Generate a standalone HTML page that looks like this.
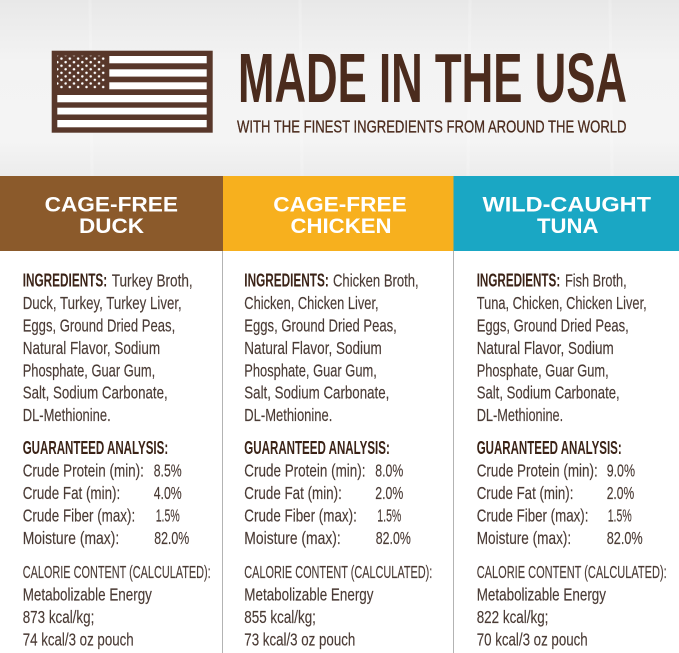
<!DOCTYPE html>
<html><head><meta charset="utf-8"><style>
html,body{margin:0;padding:0;background:#fff;}
svg{display:block;}
.r{font-family:"Liberation Sans Narrow","Liberation Sans",sans-serif;font-size:17.5px;fill:#4a3b35;stroke:#4a3b35;stroke-width:0.15;}
.b{font-family:"Liberation Sans Narrow","Liberation Sans",sans-serif;font-size:18px;font-weight:bold;fill:#3b2317;}
.h{font-family:"Liberation Sans",sans-serif;font-size:21px;font-weight:bold;fill:#fff;}
</style></head><body>
<svg width="679" height="653" viewBox="0 0 679 653" xmlns="http://www.w3.org/2000/svg">
<defs>
<linearGradient id="bg" x1="0" y1="0" x2="0" y2="1">
<stop offset="0" stop-color="#e8e8e8"/><stop offset="0.35" stop-color="#f3f3f3"/><stop offset="0.8" stop-color="#f4f4f4"/><stop offset="1" stop-color="#ececec"/>
</linearGradient>
<pattern id="stars" x="0" y="0" width="16.7" height="7.1" patternUnits="userSpaceOnUse">
<circle cx="3" cy="1.8" r="1.25" fill="#fff"/><circle cx="11.35" cy="1.8" r="1.25" fill="#fff"/>
<circle cx="7.2" cy="5.35" r="1.25" fill="#fff"/><circle cx="15.55" cy="5.35" r="1.25" fill="#fff"/>
</pattern>
</defs>
<rect x="0" y="0" width="679" height="176" fill="url(#bg)"/>
<g opacity="0.2" stroke="#ffffff" stroke-width="3">
<line x1="90" y1="0" x2="92" y2="176"/><line x1="300" y1="0" x2="302" y2="176"/><line x1="470" y1="0" x2="468" y2="176"/><line x1="610" y1="0" x2="612" y2="176"/>
</g>
<!-- flag -->
<rect x="51.7" y="50.7" width="161" height="82" fill="#58372a"/>
<rect x="57" y="55.7" width="48" height="33" fill="url(#stars)"/>
<g fill="#fff">
<rect x="109.3" y="56" width="97.4" height="7.3"/>
<rect x="109.3" y="69.3" width="97.4" height="7.3"/>
<rect x="109.3" y="82.3" width="97.4" height="7"/>
<rect x="57.3" y="95" width="149.4" height="7.3"/>
<rect x="57.3" y="107.7" width="149.4" height="6.8"/>
<rect x="57.3" y="120" width="149.4" height="7.3"/>
</g>
<!-- title -->
<text x="238" y="102" textLength="389" lengthAdjust="spacingAndGlyphs" style="font-family:'Liberation Sans Narrow','Liberation Sans',sans-serif;font-weight:bold;font-size:70px;fill:#4b2b1d">MADE IN THE USA</text>
<text x="237" y="132.5" textLength="389.5" lengthAdjust="spacingAndGlyphs" style="font-family:'Liberation Sans Narrow','Liberation Sans',sans-serif;font-size:17.2px;fill:#4b2b1d;stroke:#4b2b1d;stroke-width:0.3">WITH THE FINEST INGREDIENTS FROM AROUND THE WORLD</text>
<!-- bands -->
<rect x="0" y="176" width="223" height="75" fill="#8b5a2b"/>
<rect x="223" y="176" width="230.5" height="75" fill="#f7b01e"/>
<rect x="453.5" y="176" width="225.5" height="75" fill="#1aa7c4"/>
<text class="h" x="44.6" y="211.5" textLength="133.4" lengthAdjust="spacingAndGlyphs">CAGE-FREE</text>
<text class="h" x="79" y="233" textLength="65" lengthAdjust="spacingAndGlyphs">DUCK</text>
<text class="h" x="273.3" y="211.5" textLength="133.4" lengthAdjust="spacingAndGlyphs">CAGE-FREE</text>
<text class="h" x="290.5" y="233" textLength="101" lengthAdjust="spacingAndGlyphs">CHICKEN</text>
<text class="h" x="482.5" y="211.5" textLength="168.5" lengthAdjust="spacingAndGlyphs">WILD-CAUGHT</text>
<text class="h" x="537" y="233" textLength="61.5" lengthAdjust="spacingAndGlyphs">TUNA</text>
<!-- dividers -->
<line x1="222.5" y1="251" x2="222.5" y2="653" stroke="#b3b3b3" stroke-width="1"/>
<line x1="453.5" y1="251" x2="453.5" y2="653" stroke="#b3b3b3" stroke-width="1"/>

<!-- column 1 -->
<g transform="translate(22.7,0)">
<text class="b" x="0" y="286.7" textLength="84.5" lengthAdjust="spacingAndGlyphs">INGREDIENTS:</text>
<text class="r" x="89" y="286.7" textLength="81" lengthAdjust="spacingAndGlyphs">Turkey Broth,</text>
<text class="r" x="0" y="309.1" textLength="159" lengthAdjust="spacingAndGlyphs">Duck, Turkey, Turkey Liver,</text>
<text class="r" x="0" y="331.5" textLength="152.5" lengthAdjust="spacingAndGlyphs">Eggs, Ground Dried Peas,</text>
<text class="r" x="0" y="353.9" textLength="137.5" lengthAdjust="spacingAndGlyphs">Natural Flavor, Sodium</text>
<text class="r" x="0" y="376.3" textLength="132.5" lengthAdjust="spacingAndGlyphs">Phosphate, Guar Gum,</text>
<text class="r" x="0" y="398.7" textLength="145" lengthAdjust="spacingAndGlyphs">Salt, Sodium Carbonate,</text>
<text class="r" x="0" y="421.1" textLength="88" lengthAdjust="spacingAndGlyphs">DL-Methionine.</text>
<text class="b" x="0" y="454" textLength="145.5" lengthAdjust="spacingAndGlyphs">GUARANTEED ANALYSIS:</text>
<text class="r" x="0" y="476.5" textLength="121.2" lengthAdjust="spacingAndGlyphs">Crude Protein (min):</text>
<text class="r" x="131" y="476.5" textLength="28" lengthAdjust="spacingAndGlyphs">8.5%</text>
<text class="r" x="0" y="499" textLength="97.5" lengthAdjust="spacingAndGlyphs">Crude Fat (min):</text>
<text class="r" x="131" y="499" textLength="28" lengthAdjust="spacingAndGlyphs">4.0%</text>
<text class="r" x="0" y="521.5" textLength="112.5" lengthAdjust="spacingAndGlyphs">Crude Fiber (max):</text>
<text class="r" x="133" y="521.5" textLength="24" lengthAdjust="spacingAndGlyphs">1.5%</text>
<text class="r" x="0" y="544" textLength="96.5" lengthAdjust="spacingAndGlyphs">Moisture (max):</text>
<text class="r" x="131.5" y="544" textLength="35" lengthAdjust="spacingAndGlyphs">82.0%</text>
<text class="r" x="0" y="578" textLength="188" lengthAdjust="spacingAndGlyphs">CALORIE CONTENT (CALCULATED):</text>
<text class="r" x="0" y="600.5" textLength="129.2" lengthAdjust="spacingAndGlyphs">Metabolizable Energy</text>
<text class="r" x="0" y="623" textLength="71.6" lengthAdjust="spacingAndGlyphs">873 kcal/kg;</text>
<text class="r" x="0" y="645.5" textLength="111" lengthAdjust="spacingAndGlyphs">74 kcal/3 oz pouch</text>
</g>

<!-- column 2 -->
<g transform="translate(244.3,0)">
<text class="b" x="0" y="286.7" textLength="84.5" lengthAdjust="spacingAndGlyphs">INGREDIENTS:</text>
<text class="r" x="88.7" y="286.7" textLength="85.7" lengthAdjust="spacingAndGlyphs">Chicken Broth,</text>
<text class="r" x="0" y="309.1" textLength="134.3" lengthAdjust="spacingAndGlyphs">Chicken, Chicken Liver,</text>
<text class="r" x="0" y="331.5" textLength="152.5" lengthAdjust="spacingAndGlyphs">Eggs, Ground Dried Peas,</text>
<text class="r" x="0" y="353.9" textLength="137.5" lengthAdjust="spacingAndGlyphs">Natural Flavor, Sodium</text>
<text class="r" x="0" y="376.3" textLength="132.5" lengthAdjust="spacingAndGlyphs">Phosphate, Guar Gum,</text>
<text class="r" x="0" y="398.7" textLength="145" lengthAdjust="spacingAndGlyphs">Salt, Sodium Carbonate,</text>
<text class="r" x="0" y="421.1" textLength="88" lengthAdjust="spacingAndGlyphs">DL-Methionine.</text>
<text class="b" x="0" y="454" textLength="145.5" lengthAdjust="spacingAndGlyphs">GUARANTEED ANALYSIS:</text>
<text class="r" x="0" y="476.5" textLength="121.2" lengthAdjust="spacingAndGlyphs">Crude Protein (min):</text>
<text class="r" x="131" y="476.5" textLength="28" lengthAdjust="spacingAndGlyphs">8.0%</text>
<text class="r" x="0" y="499" textLength="97.5" lengthAdjust="spacingAndGlyphs">Crude Fat (min):</text>
<text class="r" x="131" y="499" textLength="28" lengthAdjust="spacingAndGlyphs">2.0%</text>
<text class="r" x="0" y="521.5" textLength="112.5" lengthAdjust="spacingAndGlyphs">Crude Fiber (max):</text>
<text class="r" x="133" y="521.5" textLength="24" lengthAdjust="spacingAndGlyphs">1.5%</text>
<text class="r" x="0" y="544" textLength="96.5" lengthAdjust="spacingAndGlyphs">Moisture (max):</text>
<text class="r" x="131.5" y="544" textLength="35" lengthAdjust="spacingAndGlyphs">82.0%</text>
<text class="r" x="0" y="578" textLength="188" lengthAdjust="spacingAndGlyphs">CALORIE CONTENT (CALCULATED):</text>
<text class="r" x="0" y="600.5" textLength="129.2" lengthAdjust="spacingAndGlyphs">Metabolizable Energy</text>
<text class="r" x="0" y="623" textLength="71.6" lengthAdjust="spacingAndGlyphs">855 kcal/kg;</text>
<text class="r" x="0" y="645.5" textLength="111" lengthAdjust="spacingAndGlyphs">73 kcal/3 oz pouch</text>
</g>

<!-- column 3 -->
<g transform="translate(476.7,0)">
<text class="b" x="0" y="286.7" textLength="83.5" lengthAdjust="spacingAndGlyphs">INGREDIENTS:</text>
<text class="r" x="88.3" y="286.7" textLength="61.7" lengthAdjust="spacingAndGlyphs">Fish Broth,</text>
<text class="r" x="0" y="309.1" textLength="170" lengthAdjust="spacingAndGlyphs">Tuna, Chicken, Chicken Liver,</text>
<text class="r" x="0" y="331.5" textLength="152" lengthAdjust="spacingAndGlyphs">Eggs, Ground Dried Peas,</text>
<text class="r" x="0" y="353.9" textLength="137" lengthAdjust="spacingAndGlyphs">Natural Flavor, Sodium</text>
<text class="r" x="0" y="376.3" textLength="132" lengthAdjust="spacingAndGlyphs">Phosphate, Guar Gum,</text>
<text class="r" x="0" y="398.7" textLength="143" lengthAdjust="spacingAndGlyphs">Salt, Sodium Carbonate,</text>
<text class="r" x="0" y="421.1" textLength="86.5" lengthAdjust="spacingAndGlyphs">DL-Methionine.</text>
<text class="b" x="0" y="454" textLength="145" lengthAdjust="spacingAndGlyphs">GUARANTEED ANALYSIS:</text>
<text class="r" x="0" y="476.5" textLength="121" lengthAdjust="spacingAndGlyphs">Crude Protein (min):</text>
<text class="r" x="130" y="476.5" textLength="28.3" lengthAdjust="spacingAndGlyphs">9.0%</text>
<text class="r" x="0" y="499" textLength="96.7" lengthAdjust="spacingAndGlyphs">Crude Fat (min):</text>
<text class="r" x="130" y="499" textLength="27.5" lengthAdjust="spacingAndGlyphs">2.0%</text>
<text class="r" x="0" y="521.5" textLength="111.7" lengthAdjust="spacingAndGlyphs">Crude Fiber (max):</text>
<text class="r" x="131" y="521.5" textLength="24" lengthAdjust="spacingAndGlyphs">1.5%</text>
<text class="r" x="0" y="544" textLength="94.5" lengthAdjust="spacingAndGlyphs">Moisture (max):</text>
<text class="r" x="130" y="544" textLength="36" lengthAdjust="spacingAndGlyphs">82.0%</text>
<text class="r" x="0" y="578" textLength="190" lengthAdjust="spacingAndGlyphs">CALORIE CONTENT (CALCULATED):</text>
<text class="r" x="0" y="600.5" textLength="129.3" lengthAdjust="spacingAndGlyphs">Metabolizable Energy</text>
<text class="r" x="0" y="623" textLength="71.7" lengthAdjust="spacingAndGlyphs">822 kcal/kg;</text>
<text class="r" x="0" y="645.5" textLength="111" lengthAdjust="spacingAndGlyphs">70 kcal/3 oz pouch</text>
</g>
</svg>
</body></html>
